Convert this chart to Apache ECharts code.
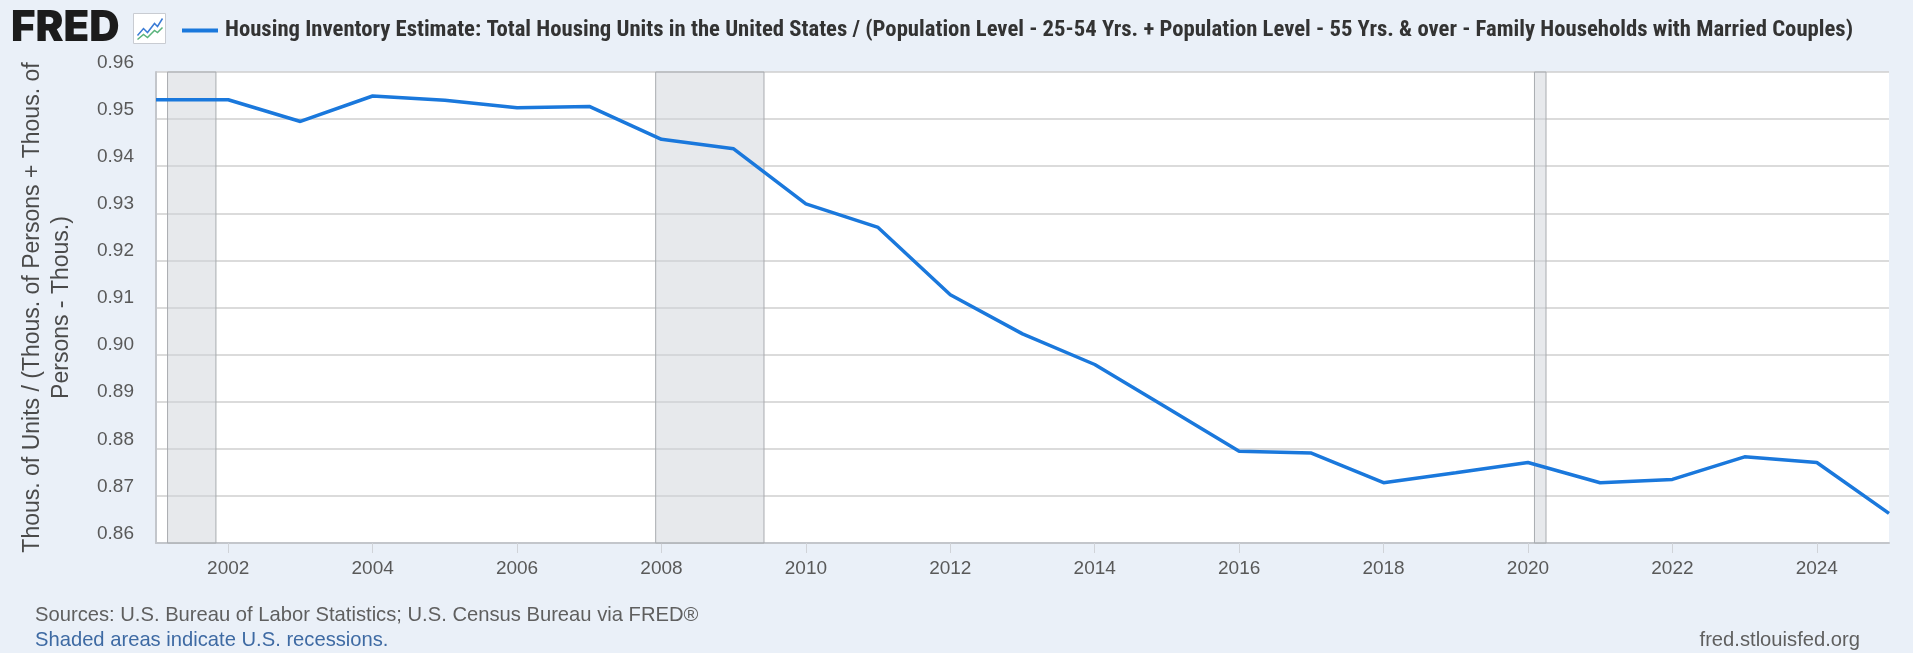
<!DOCTYPE html>
<html>
<head>
<meta charset="utf-8">
<script src="https://cdn.jsdelivr.net/npm/echarts@6/dist/echarts.min.js"></script>
<style>
html,body{margin:0;padding:0;background:#eaf0f8;}
#chart{width:1913px;height:653px;}
</style>
</head>
<body>
<div id="chart"></div>
<script>
// ---- data ----
const years = [2001,2002,2003,2004,2005,2006,2007,2008,2009,2010,2011,2012,2013,2014,2015,2016,2017,2018,2019,2020,2021,2022,2023,2024,2025];
const values = [0.9541,0.9541,0.9495,0.9549,0.9540,0.9524,0.9527,0.9457,0.9437,0.9320,0.9270,0.9127,0.9044,0.8979,0.8887,0.8795,0.8791,0.8728,0.8749,0.8771,0.8728,0.8735,0.8783,0.8771,0.8663];
const recessionStarts = [2001.16, 2007.92, 2020.09];
const recessionEnds   = [2001.83, 2009.42, 2020.25];
const xTickLabels = [2002,2004,2006,2008,2010,2012,2014,2016,2018,2020,2022,2024];
const yTickLabels = [0.86,0.87,0.88,0.89,0.90,0.91,0.92,0.93,0.94,0.95,0.96];
const seriesName = 'Housing Inventory Estimate: Total Housing Units in the United States / (Population Level - 25-54 Yrs. + Population Level - 55 Yrs. & over - Family Households with Married Couples)';
const yAxisName = 'Thous. of Units / (Thous. of Persons + Thous. of\nPersons - Thous.)';

const seriesData = years.map((y, i) => [y, values[i]]);
const recessionAreas = recessionStarts.map((s, i) => [{xAxis: s}, {xAxis: recessionEnds[i]}]);

const chart = echarts.init(document.getElementById('chart'), null, {renderer: 'canvas'});
const baseFont = '"Liberation Sans", Arial, sans-serif';

chart.setOption({
  backgroundColor: '#eaf0f8',
  animation: false,
  textStyle: {fontFamily: baseFont},
  title: [
    {text: 'Sources: U.S. Bureau of Labor Statistics; U.S. Census Bureau via FRED®', left: 30, top: 600,
     textStyle: {fontSize: 20.2, fontWeight: 'normal', color: '#5f5f5f', fontFamily: baseFont}},
    {text: 'Shaded areas indicate U.S. recessions.', left: 30, top: 625,
     textStyle: {fontSize: 20.2, fontWeight: 'normal', color: '#3e6aa3', fontFamily: baseFont}},
    {text: 'fred.stlouisfed.org', right: 48, top: 625,
     textStyle: {fontSize: 20.2, fontWeight: 'normal', color: '#5f5f5f', fontFamily: baseFont}}
  ],
  legend: {
    left: 177, top: 14,
    icon: 'rect', itemWidth: 36, itemHeight: 4, itemGap: 0,
    textStyle: {fontSize: 22.7, fontWeight: 'bold', color: '#333', fontFamily: '"Liberation Sans Narrow", "Roboto Condensed", "Liberation Sans", sans-serif', padding: [0,0,0,2]},
    data: [seriesName]
  },
  graphic: [
    {type: 'text', left: 11, top: 7, style: {text: 'FRED', fontSize: 42, fontWeight: 900, fill: '#1c1c1c', fontFamily: 'Inter, "DejaVu Sans", sans-serif', letterSpacing: 0}},
    {type: 'group', left: 133, top: 13, children: [
      {type: 'rect', shape: {x: 0, y: 0, width: 32, height: 30}, style: {fill: '#ffffff', stroke: '#c9ccd2', lineWidth: 1}},
      {type: 'polyline', shape: {points: [[4,22],[10,15],[14,19],[21,10],[24,13],[29,5]]}, style: {stroke: '#3a7bd5', lineWidth: 1.5, fill: null}},
      {type: 'polyline', shape: {points: [[4,26],[10,21],[14,24],[21,17],[24,19],[29,14]]}, style: {stroke: '#59b37b', lineWidth: 1.5, fill: null}}
    ]}
  ],
  grid: {left: 156, right: 24, top: 72, bottom: 110, show: true, backgroundColor: '#ffffff', borderWidth: 0, containLabel: false},
  xAxis: {
    type: 'value', min: 2001, max: 2025,
    axisLine: {show: true, lineStyle: {color: '#c3c6cb', width: 2}},
    axisTick: {show: true, length: 10, lineStyle: {color: '#d0d3d8', width: 1}, customValues: xTickLabels},
    axisLabel: {customValues: xTickLabels, fontSize: 19, color: '#595959', margin: 16, formatter: v => String(v), fontFamily: baseFont},
    splitLine: {show: false}
  },
  yAxis: {
    type: 'value', min: 0.86, max: 0.96, interval: 0.01,
    name: yAxisName, nameLocation: 'middle', nameGap: 80, nameRotate: 90,
    nameTextStyle: {fontSize: 23, color: '#4a4a4a', lineHeight: 29, align: 'center', fontFamily: baseFont},
    axisLine: {show: true, lineStyle: {color: '#c3c6cb', width: 2}},
    axisTick: {show: false},
    axisLabel: {fontSize: 19, color: '#595959', margin: 22, verticalAlign: 'bottom', formatter: v => v.toFixed(2), fontFamily: baseFont},
    splitLine: {show: true, lineStyle: {color: '#cfcfcf', width: 1.5}}
  },
  series: [{
    name: seriesName, type: 'line', data: seriesData, showSymbol: false, symbol: 'none',
    lineStyle: {color: '#1a78dc', width: 3.5}, itemStyle: {color: '#1a78dc'},
    markArea: {silent: true, itemStyle: {color: 'rgba(208,212,218,0.5)', borderColor: '#a9acb0', borderWidth: 1}, data: recessionAreas},
    z: 3
  }]
});
</script>
</body>
</html>
